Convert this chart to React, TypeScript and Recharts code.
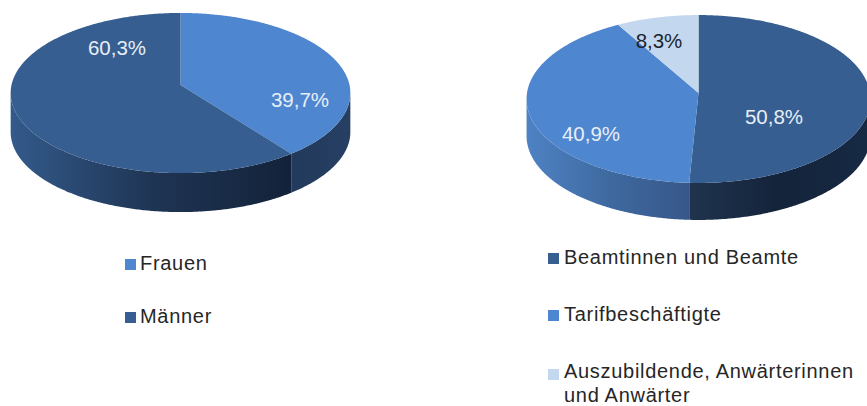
import React from 'react';
import { PieChart, Pie, Legend } from 'recharts';

// Left pie
const genderNames = ['Frauen', 'Männer'];
const genderValues = [39.7, 60.3];
const genderColors = ['#4f86d0', '#365e90'];
const genderLabelColors = ['#e8eef6', '#e8eef6'];

// Right pie
const statusNames = ['Beamtinnen und Beamte', 'Tarifbeschäftigte', 'Auszubildende, Anwärterinnen und Anwärter'];
const statusValues = [50.8, 40.9, 8.3];
const statusColors = ['#365e90', '#4f86d0', '#c3d7ee'];
const statusLabelColors = ['#e8eef6', '#e8eef6', '#1c2530'];

const genderWalls = [['#223a5b', '#263f63'], ['#335a8b', '#1f3554', '#13223a']];
const statusWalls = [['#20344f', '#13233a', '#172a44'], ['#4e82c4', '#3f6aa0', '#37578a'], ['#c3d7ee', '#c3d7ee']];

const toRows = (names: string[], values: number[], colors: string[]) =>
  names.map((name, i) => ({ name, value: values[i], fill: colors[i] }));

const fontFamily = '"Liberation Sans", Arial, sans-serif';
const RAD = Math.PI / 180;

type Geo = {
  id: string;
  flat: number; // ry / rx of the tilted disc
  tilt: number; // perspective strength
  depth: number;
  walls: string[][];
  names: string[];
};

// tilted disc with a bit of perspective, so the near half comes out larger
const project = (g: Geo, cx: number, cy: number, r: number, deg: number) => {
  const u = Math.cos(deg * RAD);
  const v = -Math.sin(deg * RAD);
  const w = 1 - g.tilt * v;
  return { x: cx + (r * u) / w, y: cy + (r * g.flat * v) / w, v };
};

const makeSlice = (g: Geo) => (props: any) => {
  const { cx, cy, outerRadius, startAngle, endAngle, fill, name } = props;
  const from = Math.max(startAngle, endAngle);
  const to = Math.min(startAngle, endAngle);
  const rim = [];
  for (let a = from; a >= to - 0.001; a -= 0.5) rim.push(project(g, cx, cy, outerRadius, a));
  rim.push(project(g, cx, cy, outerRadius, to));

  const topPath = `M${cx},${cy} ` + rim.map((p) => `L${p.x},${p.y}`).join(' ') + ' Z';
  const front = rim.filter((p) => p.v >= g.tilt);
  const idx = g.names.indexOf(name);
  const stops = g.walls[idx] || ['#000', '#000'];
  const gradId = `${g.id}-wall-${idx}`;

  let wall = null;
  if (front.length > 1) {
    const xs = front.map((p) => p.x);
    const down = [...front].reverse().map((p) => `L${p.x},${p.y + g.depth}`).join(' ');
    const wallPath = `M${front[0].x},${front[0].y} ` + front.map((p) => `L${p.x},${p.y}`).join(' ') + ' ' + down + ' Z';
    wall = (
      <>
        <defs>
          <linearGradient id={gradId} gradientUnits="userSpaceOnUse" x1={Math.min(...xs)} x2={Math.max(...xs)} y1={0} y2={0}>
            {stops.map((c, i) => (
              <stop key={i} offset={i / (stops.length - 1)} stopColor={c} />
            ))}
          </linearGradient>
        </defs>
        <path d={wallPath} fill={`url(#${gradId})`} stroke="none" />
      </>
    );
  }
  return (
    <g>
      {wall}
      <path d={topPath} fill={fill} stroke="none" />
    </g>
  );
};

const makeLabel = (spots: number[][], colors: string[]) => (props: any) => {
  const { index, value } = props;
  return (
    <text
      x={spots[index][0]}
      y={spots[index][1]}
      fill={colors[index]}
      textAnchor="middle"
      dominantBaseline="central"
      fontFamily={fontFamily}
      fontSize={20.5}
    >
      {`${value.toFixed(1).replace('.', ',')}%`}
    </text>
  );
};

const makeLegend = (rows: { swatch: number[]; textTop: number; x: number }[]) => (props: any) => (
  <div>
    {(props.payload || []).map((entry: any, i: number) => (
      <React.Fragment key={entry.value}>
        <div
          style={{
            position: 'absolute',
            left: rows[i].swatch[0],
            top: rows[i].swatch[1],
            width: rows[i].swatch[2],
            height: rows[i].swatch[2],
            background: entry.color,
          }}
        />
        <div
          style={{
            position: 'absolute',
            left: rows[i].x,
            top: rows[i].textTop,
            width: 298,
            fontFamily,
            fontSize: 20,
            lineHeight: '23.5px',
            letterSpacing: 0.7,
            color: '#262626',
            textAlign: 'left',
          }}
        >
          {entry.value}
        </div>
      </React.Fragment>
    ))}
  </div>
);

const genderGeo: Geo = { id: 'gender', flat: 0.469, tilt: 0.1, depth: 39, walls: genderWalls, names: genderNames };
const statusGeo: Geo = { id: 'status', flat: 0.487, tilt: 0.0714, depth: 37, walls: statusWalls, names: statusNames };

const GenderSlice = makeSlice(genderGeo);
const StatusSlice = makeSlice(statusGeo);

const GenderLegend = makeLegend([
  { swatch: [125, 259, 11], textTop: 252, x: 140 },
  { swatch: [125, 312, 11], textTop: 305, x: 140 },
]);
const StatusLegend = makeLegend([
  { swatch: [115, 253, 11], textTop: 246, x: 131 },
  { swatch: [115, 310, 11], textTop: 303, x: 131 },
  { swatch: [115, 369, 11], textTop: 360, x: 131 },
]);

const App = () => (
  <div style={{ position: 'absolute', left: 0, top: 0, width: 867, height: 406, overflow: 'hidden', background: '#fff' }}>
    <div style={{ position: 'absolute', left: 0, top: 0 }}>
      <PieChart width={433} height={406} margin={{ top: 0, right: 0, bottom: 0, left: 0 }}>
        <Pie
          data={toRows(genderNames, genderValues, genderColors)}
          dataKey="value"
          nameKey="name"
          cx={180.5}
          cy={85}
          innerRadius={0}
          outerRadius={169}
          startAngle={90}
          endAngle={-270}
          stroke="none"
          isAnimationActive={false}
          shape={GenderSlice}
          inactiveShape={GenderSlice}
          labelLine={false}
          label={makeLabel([[300, 99], [117, 47]], genderLabelColors)}
        />
        <Legend content={GenderLegend} itemSorter={null} wrapperStyle={{ left: 0, top: 0, width: 433, height: 0 }} />
      </PieChart>
    </div>
    <div style={{ position: 'absolute', left: 433, top: 0 }}>
      <PieChart width={434} height={406} margin={{ top: 0, right: 0, bottom: 0, left: 0 }} style={{ overflow: 'visible' }}>
        <Pie
          data={toRows(statusNames, statusValues, statusColors)}
          dataKey="value"
          nameKey="name"
          cx={265.5}
          cy={93}
          innerRadius={0}
          outerRadius={171.5}
          startAngle={90}
          endAngle={-270}
          stroke="none"
          isAnimationActive={false}
          shape={StatusSlice}
          inactiveShape={StatusSlice}
          labelLine={false}
          label={makeLabel([[341, 116], [158, 133], [226, 40]], statusLabelColors)}
        />
        <Legend content={StatusLegend} itemSorter={null} wrapperStyle={{ left: 0, top: 0, width: 434, height: 0 }} />
      </PieChart>
    </div>
  </div>
);

export default App;
